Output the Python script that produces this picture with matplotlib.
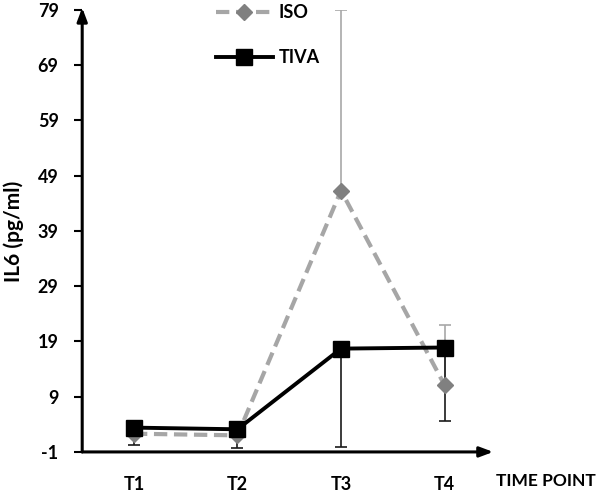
import matplotlib
matplotlib.use("Agg")
import matplotlib.pyplot as plt

plt.rcParams['font.family'] = ['Lato', 'DejaVu Sans']
plt.rcParams['font.weight'] = 'bold'

time_points = ["T1", "T2", "T3", "T4"]
yticks = [-1, 9, 19, 29, 39, 49, 59, 69, 79]
iso_mean = [2.3, 2.0, 46.3, 11.1]
iso_err_up = [0.0, 0.0, 32.7, 10.8]
tiva_mean = [3.4, 3.1, 17.7, 17.9]
tiva_err_low = [3.2, 3.3, 17.8, 13.3]

x = list(range(1, len(time_points) + 1))

fig = plt.figure(figsize=(6, 4.95), dpi=100)
ax = fig.add_axes([0.137, 0.087, 0.685, 0.893])
ax.set_xlim(0.5, 4.47)
ax.set_ylim(-1, 79)

# error bars
ax.errorbar(x, iso_mean, yerr=[[0]*4, iso_err_up], fmt='none', ecolor='#a8a8a8',
            elinewidth=1.2, capsize=4, capthick=1.2, zorder=2)
ax.errorbar(x, tiva_mean, yerr=[tiva_err_low, [0]*4], fmt='none', ecolor='#1a1a1a',
            elinewidth=1.2, capsize=4, capthick=1.2, zorder=2)

iso_line, = ax.plot(x, iso_mean, linestyle=(0, (3.2, 1.6)), color='#a6a6a6', linewidth=3,
                    marker='D', markersize=8, markerfacecolor='#808080',
                    markeredgecolor='#808080', zorder=3, label='ISO')
tiva_line, = ax.plot(x, tiva_mean, linestyle='-', color='black', linewidth=2.8,
                     marker='s', markersize=11, markerfacecolor='black',
                     markeredgecolor='black', zorder=4, label='TIVA')

for s in ax.spines.values():
    s.set_visible(False)

# axis lines with arrows
ax.annotate('', xy=(0, 1.005), xytext=(0, 0), xycoords='axes fraction',
            arrowprops=dict(arrowstyle='-|>,head_length=0.8,head_width=0.3', color='black', lw=2.2,
                            shrinkA=0, shrinkB=0))
ax.annotate('', xy=(1.0, 0), xytext=(0, 0), xycoords='axes fraction',
            arrowprops=dict(arrowstyle='-|>,head_length=0.8,head_width=0.3', color='black', lw=2.2,
                            shrinkA=0, shrinkB=0))

ax.set_xticks(x)
ax.set_xticklabels(time_points, fontsize=13, fontweight='bold')
ax.tick_params(axis='x', length=0, pad=17)
ax.set_yticks(yticks)
ax.set_yticklabels([str(v) for v in yticks], fontsize=13, fontweight='bold')
ax.tick_params(axis='y', length=6, width=1.5, pad=11)

ax.set_ylabel('IL6 (pg/ml)', fontsize=15, fontweight='bold', labelpad=10)

fig.text(0.993, 0.012, 'TIME POINT', fontsize=12.5, fontweight='bold', ha='right', va='bottom')

leg = ax.legend(handles=[iso_line, tiva_line], loc='upper left',
                bbox_to_anchor=(0.285, 1.05), frameon=False, fontsize=13,
                handlelength=3.2, labelspacing=1.55, handletextpad=0.3)
for t in leg.get_texts():
    t.set_fontweight('bold')

fig.savefig('out.png', dpi=100)
